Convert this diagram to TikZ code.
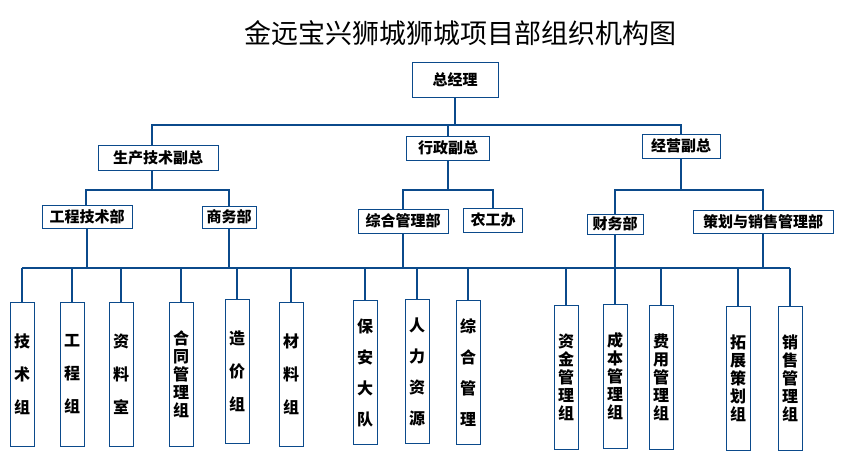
\documentclass[tikz,border=0pt]{standalone}
\usepackage{fontspec}
\setmainfont{Noto Sans CJK SC}
\newfontfamily\cjkbold{Noto Sans CJK SC Black}
\usetikzlibrary{positioning}
\definecolor{orgblue}{HTML}{0B4A8B}
\tikzset{
  box/.style={draw=orgblue, line width=1pt, fill=white, inner sep=2pt,
    font=\cjkbold\fontsize{15}{17}\selectfont},
  leaf/.style={draw=orgblue, line width=1pt, anchor=north, minimum width=24pt,
    minimum height=144pt, inner sep=0pt, align=center,
    font=\cjkbold\fontsize{16}{#1}\selectfont},
  leaf/.default=33,
  wire/.style={draw=orgblue, line width=2.5pt}
}
\begin{document}
\begin{tikzpicture}[x=1pt,y=-1pt]
  \useasboundingbox (0,0) rectangle (844,458);
  \node (title) at (460,33) {\fontsize{27}{29}\selectfont 金远宝兴狮城狮城项目部组织机构图};
  % top
  \node[box, minimum width=86pt, minimum height=35pt] (gm) at (455,80) {总经理};
  \node[box, minimum width=120pt, minimum height=25pt] (vp1) at (158,158) {生产技术副总};
  \node[box, minimum width=83pt, minimum height=24pt] (vp2) at (448,148) {行政副总};
  \node[box, minimum width=78pt, minimum height=24pt] (vp3) at (681,146) {经营副总};
  \coordinate (top) at (455,125);
  \draw[wire] (gm.south) -- (top);
  \draw[wire] (vp1.north -| 152,0) |- (top) -| (vp3.north);
  \draw[wire] (vp2.north) -- (vp2.north |- top);
  % departments
  \node[box, minimum width=90pt, minimum height=23pt] (d1) at (87,217) {工程技术部};
  \node[box, minimum width=54pt, minimum height=22pt] (d2) at (229,217) {商务部};
  \node[box, minimum width=90pt, minimum height=24pt] (d3) at (403,221) {综合管理部};
  \node[box, minimum width=59pt, minimum height=24pt] (d4) at (493,220) {农工办};
  \node[box, minimum width=56pt, minimum height=20pt] (d5) at (615,224) {财务部};
  \node[box, minimum width=140pt, minimum height=23pt] (d6) at (763,222) {策划与销售管理部};
  \coordinate (m1) at (152,190);
  \coordinate (m2) at (448,190);
  \coordinate (m3) at (681,190);
  \draw[wire] (vp1.south -| m1) -- (m1);
  \draw[wire] (d1.north -| 86,0) |- (m1) -| (d2.north);
  \draw[wire] (vp2.south) -- (m2);
  \draw[wire] (d3.north) |- (m2) -| (d4.north);
  \draw[wire] (vp3.south) -- (m3);
  \draw[wire] (d5.north) |- (m3) -| (d6.north);
  % groups
  \coordinate (bus) at (0,268);
  \node[leaf] (g1) at (22,302) {技\\术\\组};
  \node[leaf] (g2) at (72,302) {工\\程\\组};
  \node[leaf] (g3) at (121,302) {资\\料\\室};
  \node[leaf=18] (g4) at (181,302) {合\\同\\管\\理\\组};
  \node[leaf] (g5) at (237,299) {造\\价\\组};
  \node[leaf] (g6) at (291,302) {材\\料\\组};
  \node[leaf=31] (g7) at (365,300) {保\\安\\大\\队};
  \node[leaf=31] (g8) at (417,299) {人\\力\\资\\源};
  \node[leaf=31] (g9) at (468,300) {综\\合\\管\\理};
  \node[leaf=18] (g10) at (566,305) {资\\金\\管\\理\\组};
  \node[leaf=18] (g11) at (615,304) {成\\本\\管\\理\\组};
  \node[leaf=18] (g12) at (661,305) {费\\用\\管\\理\\组};
  \node[leaf=18] (g13) at (738,306) {拓\\展\\策\\划\\组};
  \node[leaf=18] (g14) at (790,306) {销\\售\\管\\理\\组};
  \draw[wire] (g1.north |- bus) -- (g14.north |- bus);
  \foreach \g in {g1,g2,g3,g4,g5,g6,g7,g8,g9,g10,g11,g12,g13,g14}
    \draw[wire] (\g.north) -- (\g.north |- bus);
  \foreach \d in {d1,d2,d3,d5,d6}
    \draw[wire] (\d.south) -- (\d.south |- bus);
\end{tikzpicture}
\end{document}
